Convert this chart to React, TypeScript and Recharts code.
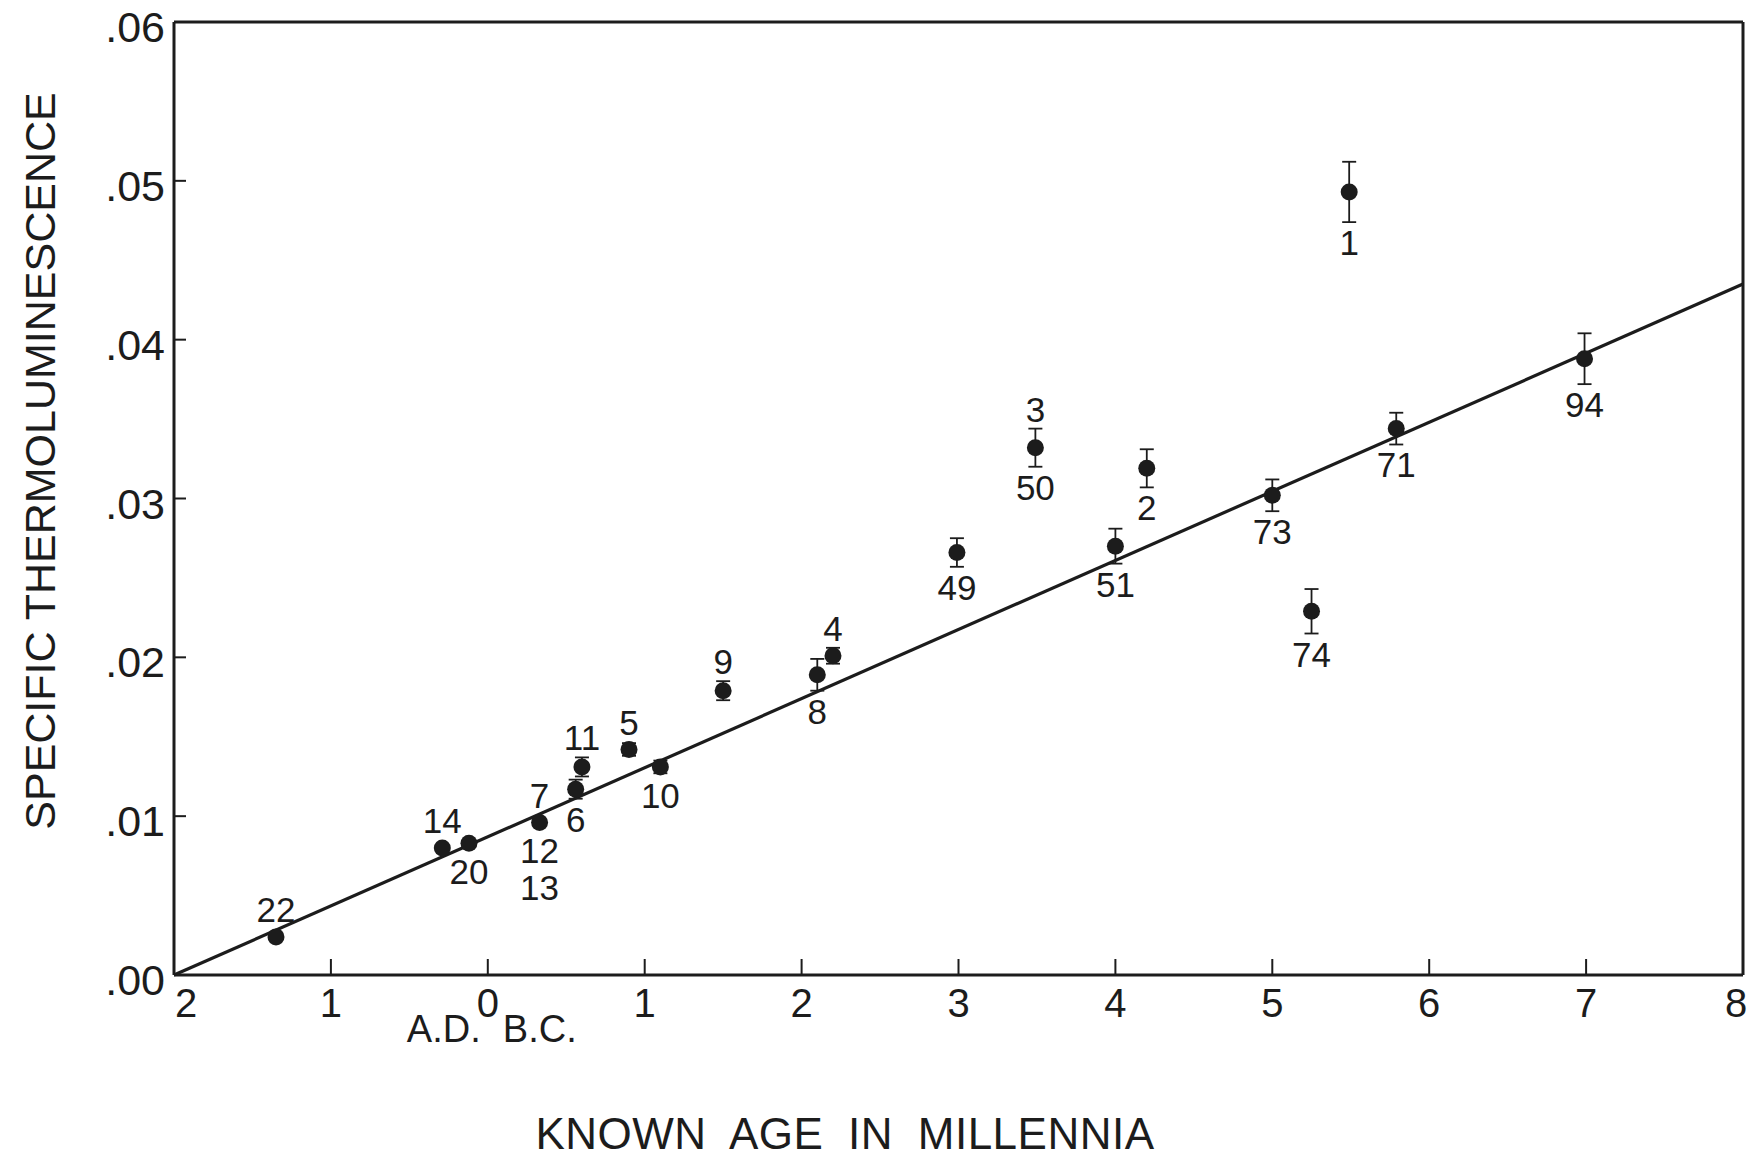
import React from 'react';
import { ScatterChart, Scatter, XAxis, YAxis, ErrorBar, ReferenceLine } from 'recharts';

// known age in millennia (negative = A.D.)
const sampleAges = [-1.35, -0.29, -0.12, 0.33, 0.56, 0.6, 0.9, 1.1, 1.5, 2.1, 2.2, 2.99, 3.49, 4.2, 4.0, 5.0, 5.25, 5.49, 5.79, 6.99];
const thermoValues = [0.0024, 0.008, 0.0083, 0.0096, 0.0117, 0.0131, 0.0142, 0.0131, 0.0179, 0.0189, 0.0201, 0.0266, 0.0332, 0.0319, 0.027, 0.0302, 0.0229, 0.0493, 0.0344, 0.0388];
const errors = [0, 0, 0, 0, 0.0006, 0.0006, 0.0004, 0.0004, 0.0006, 0.001, 0.0005, 0.0009, 0.0012, 0.0012, 0.0011, 0.001, 0.0014, 0.0019, 0.001, 0.0016];
const labelsAbove = ['22', '14', '', '7', '', '11', '5', '', '9', '', '4', '', '3', '', '', '', '', '', '', ''];
const labelsBelow = ['', '', '20', '12|13', '6', '', '', '10', '', '8', '', '49', '50', '2', '51', '73', '74', '1', '71', '94'];

const fitAges = [-2, 8];
const fitValues = [0, 0.0435];

const xTicks = [-2, -1, 0, 1, 2, 3, 4, 5, 6, 7, 8];
const xTickLabels = ['2', '1', '0', '1', '2', '3', '4', '5', '6', '7', '8'];
const yTicks = [0, 0.01, 0.02, 0.03, 0.04, 0.05, 0.06];
const yTickLabels = ['.00', '.01', '.02', '.03', '.04', '.05', '.06'];

const INK = '#1c1c1c';
const FONT = '"Liberation Sans", Arial, sans-serif';
const DOT_HALF = 0.0005; // about a dot radius in data units, so tags clear the dot

const points = sampleAges.map((x, i) => ({ x, y: thermoValues[i], err: errors[i] }));
const barPoints = points.filter((p) => p.err > 0);
const plainPoints = points.filter((p) => p.err === 0);
const aboveTags = points
  .map((p, i) => ({ x: p.x, y: p.y + Math.max(p.err, DOT_HALF), label: labelsAbove[i] }))
  .filter((t) => t.label);
const belowTags = points
  .map((p, i) => ({ x: p.x, y: p.y - Math.max(p.err, DOT_HALF), label: labelsBelow[i] }))
  .filter((t) => t.label);

const Dot = (props: any) => <circle cx={props.cx} cy={props.cy} r={8.5} fill={INK} />;

const AboveTag = (props: any) => (
  <text x={props.cx} y={props.cy - 7} textAnchor="middle" fontSize={35} fontFamily={FONT} fill={INK}>
    {props.payload.label}
  </text>
);

const BelowTag = (props: any) => {
  const lines: string[] = props.payload.label.split('|');
  return (
    <text x={props.cx} y={props.cy + 33} textAnchor="middle" fontSize={35} fontFamily={FONT} fill={INK}>
      {lines.map((l, k) => (
        <tspan key={k} x={props.cx} dy={k === 0 ? 0 : 37}>
          {l}
        </tspan>
      ))}
    </text>
  );
};

const XTick = (props: any) => {
  const { x, y, payload } = props;
  const i = xTicks.indexOf(payload.value);
  const last = xTicks.length - 1;
  const inner = i > 0 && i < last;
  let tx = x;
  let anchor: 'start' | 'middle' = 'middle';
  if (i === 0) {
    tx = x + 1;
    anchor = 'start';
  } else if (i === last) {
    tx = x - 7;
  }
  return (
    <g>
      {inner && <line x1={x} x2={x} y1={y} y2={y - 16} stroke={INK} strokeWidth={2} />}
      <text x={tx} y={y + 42} textAnchor={anchor} fontSize={40} fontFamily={FONT} fill={INK}>
        {xTickLabels[i]}
      </text>
      {payload.value === 0 && (
        <g fontSize={38} fontFamily={FONT} fill={INK}>
          <text x={x - 44} y={y + 67} textAnchor="middle">A.D.</text>
          <text x={x + 52} y={y + 67} textAnchor="middle">B.C.</text>
        </g>
      )}
    </g>
  );
};

const YTick = (props: any) => {
  const { x, y, payload } = props;
  const i = yTicks.findIndex((v) => Math.abs(v - payload.value) < 1e-9);
  const inner = i > 0 && i < yTicks.length - 1;
  return (
    <g>
      {inner && <line x1={x} x2={x + 12} y1={y} y2={y} stroke={INK} strokeWidth={2} />}
      <text x={x - 9} y={y + 20} textAnchor="end" fontSize={43} fontFamily={FONT} fill={INK}>
        {yTickLabels[i]}
      </text>
    </g>
  );
};

const XTitle = (props: any) => {
  const vb = props.viewBox;
  return (
    <text
      x={vb.x + 671}
      y={vb.y + 174}
      textAnchor="middle"
      fontSize={44}
      letterSpacing={0.5}
      wordSpacing={12}
      fontFamily={FONT}
      fill={INK}
    >
      KNOWN AGE IN MILLENNIA
    </text>
  );
};

const YTitle = (props: any) => {
  const vb = props.viewBox;
  const cx = vb.x + 55;
  const cy = vb.y + 439;
  return (
    <text
      x={cx}
      y={cy}
      transform={`rotate(-90 ${cx} ${cy})`}
      textAnchor="middle"
      fontSize={43}
      fontFamily={FONT}
      fill={INK}
    >
      SPECIFIC THERMOLUMINESCENCE
    </text>
  );
};

export default function App() {
  return (
    <div style={{ position: 'absolute', left: 0, top: 0, width: 1758, height: 1157, background: '#fff' }}>
      <ScatterChart width={1758} height={1157} margin={{ top: 22, right: 15, bottom: 0, left: 0 }}>
        <XAxis
          type="number"
          dataKey="x"
          domain={[-2, 8]}
          ticks={xTicks}
          interval={0}
          height={182}
          tickSize={0}
          tickMargin={0}
          tickLine={false}
          tick={<XTick />}
          axisLine={{ stroke: INK, strokeWidth: 3 }}
          label={{ content: <XTitle /> }}
        />
        <YAxis
          type="number"
          dataKey="y"
          domain={[0, 0.06]}
          ticks={yTicks}
          interval={0}
          width={174}
          tickSize={0}
          tickMargin={0}
          tickLine={false}
          tick={<YTick />}
          axisLine={{ stroke: INK, strokeWidth: 3 }}
          label={{ content: <YTitle /> }}
        />
        <ReferenceLine y={0.06} stroke={INK} strokeWidth={3} />
        <ReferenceLine x={8} stroke={INK} strokeWidth={3} />
        <ReferenceLine
          segment={[
            { x: fitAges[0], y: fitValues[0] },
            { x: fitAges[1], y: fitValues[1] },
          ]}
          stroke={INK}
          strokeWidth={3.2}
        />
        <Scatter data={barPoints} shape={<Dot />} isAnimationActive={false}>
          <ErrorBar dataKey="err" direction="y" width={7} stroke={INK} strokeWidth={1.8} isAnimationActive={false} />
        </Scatter>
        <Scatter data={plainPoints} shape={<Dot />} isAnimationActive={false} />
        <Scatter data={aboveTags} shape={<AboveTag />} isAnimationActive={false} />
        <Scatter data={belowTags} shape={<BelowTag />} isAnimationActive={false} />
      </ScatterChart>
    </div>
  );
}
